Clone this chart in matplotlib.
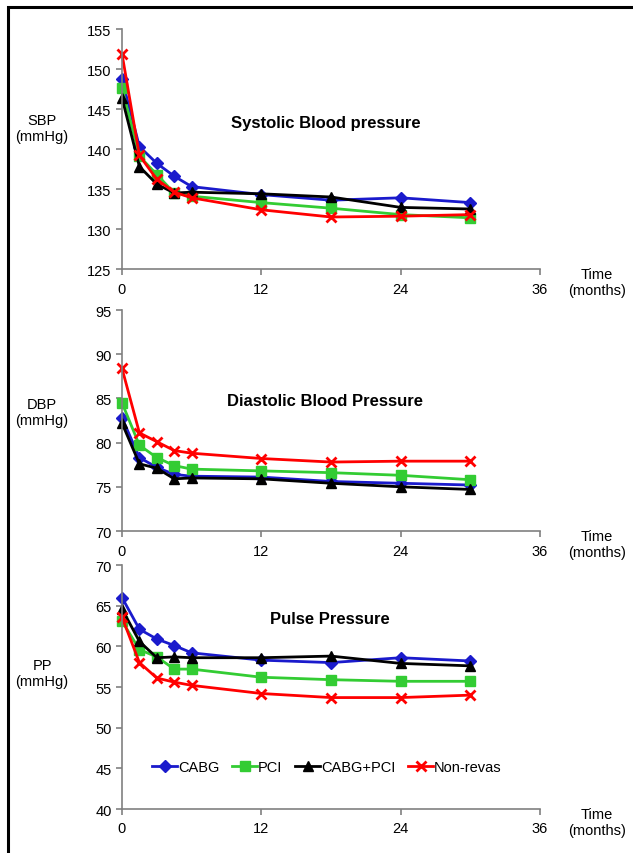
import matplotlib.pyplot as plt
from matplotlib.patches import Rectangle

plt.rcParams['font.family'] = ['Liberation Sans', 'DejaVu Sans']

# follow-up times (months)
months = [0, 1.5, 3, 4.5, 6, 12, 18, 24, 30]

groups = ["CABG", "PCI", "CABG+PCI", "Non-revas"]

# systolic blood pressure (mmHg)
sbp_cabg = [148.7, 140.3, 138.2, 136.6, 135.3, 134.3, 133.6, 133.9, 133.3]
sbp_pci = [147.6, 139.1, 136.8, 134.5, 134.1, 133.3, 132.6, 131.8, 131.4]
sbp_both = [146.4, 137.8, 135.6, 134.5, 134.6, 134.4, 134.0, 132.7, 132.5]
sbp_nonrev = [151.9, 139.2, 136.2, 134.6, 133.9, 132.4, 131.5, 131.6, 131.8]

# diastolic blood pressure (mmHg)
dbp_cabg = [82.8, 78.3, 77.2, 76.4, 76.2, 76.1, 75.6, 75.4, 75.2]
dbp_pci = [84.5, 79.7, 78.3, 77.4, 77.0, 76.8, 76.6, 76.3, 75.8]
dbp_both = [82.2, 77.6, 77.1, 75.9, 76.0, 75.9, 75.4, 75.0, 74.7]
dbp_nonrev = [88.4, 81.1, 80.1, 79.1, 78.8, 78.2, 77.8, 77.9, 77.9]

# pulse pressure (mmHg)
pp_cabg = [66.0, 62.1, 60.9, 60.1, 59.2, 58.3, 58.0, 58.6, 58.2]
pp_pci = [63.1, 59.6, 58.7, 57.2, 57.2, 56.2, 55.9, 55.7, 55.7]
pp_both = [64.6, 60.6, 58.6, 58.7, 58.6, 58.6, 58.8, 57.9, 57.6]
pp_nonrev = [63.6, 58.0, 56.1, 55.6, 55.2, 54.2, 53.7, 53.7, 54.0]

x_ticks = [0, 12, 24, 36]

colors = ["#1a1acc", "#33cc33", "#000000", "#ff0000"]
markers = ["D", "s", "^", "x"]
msizes = [6, 7, 7, 7]

W, H = 633, 854
fig = plt.figure(figsize=(W / 100, H / 100), dpi=100)

# black frame round the picture (only left and top edges visible)
fig.patches.append(Rectangle((8 / W, -0.1), 1.2, 1 - 8 / H + 0.1, transform=fig.transFigure,
                             fill=False, edgecolor="black", linewidth=2.2))


def px_axes(top, bottom):
    # axes rectangle from pixel coordinates of the plotting area
    left, right = 122, 540
    return fig.add_axes([left / W, 1 - bottom / H, (right - left) / W, (bottom - top) / H])


panels = [
    dict(top=30, bottom=270, ylim=(125, 155), step=5, label="SBP\n(mmHg)", lab_y=129,
         title="Systolic Blood pressure", tpos=(326, 124),
         data=[sbp_cabg, sbp_pci, sbp_both, sbp_nonrev]),
    dict(top=311, bottom=532, ylim=(70, 95), step=5, label="DBP\n(mmHg)", lab_y=413,
         title="Diastolic Blood Pressure", tpos=(325, 402),
         data=[dbp_cabg, dbp_pci, dbp_both, dbp_nonrev]),
    dict(top=566, bottom=810, ylim=(40, 70), step=5, label="PP\n(mmHg)", lab_y=674,
         title="Pulse Pressure", tpos=(330, 620),
         data=[pp_cabg, pp_pci, pp_both, pp_nonrev]),
]

for p in panels:
    ax = px_axes(p["top"], p["bottom"])
    for name, vals, c, m, ms in zip(groups, p["data"], colors, markers, msizes):
        ax.plot(months, vals, color=c, marker=m, markersize=ms, linewidth=2,
                markeredgewidth=2 if m == "x" else 1, label=name, clip_on=False)
    ax.set_xlim(0, 36)
    ax.set_ylim(*p["ylim"])
    ax.set_xticks(x_ticks)
    lo, hi = p["ylim"]
    ax.set_yticks(list(range(lo, hi + 1, p["step"])))
    for side in ["top", "right"]:
        ax.spines[side].set_visible(False)
    for side in ["left", "bottom"]:
        ax.spines[side].set_color("#808080")
        ax.spines[side].set_linewidth(1.2)
    ax.tick_params(colors="#808080", labelcolor="black", labelsize=10.5, length=4, width=1.2)
    ax.tick_params(axis="x", pad=5)
    ax.set_facecolor("none")

    fig.text(p["tpos"][0] / W, 1 - p["tpos"][1] / H, p["title"], ha="center", va="center",
             fontsize=12, fontweight="bold")
    fig.text(42 / W, 1 - p["lab_y"] / H, p["label"], ha="center", va="center", fontsize=10.5,
             linespacing=1.1)
    fig.text(597 / W, 1 - (p["bottom"] + 13) / H, "Time\n(months)", ha="center", va="center",
             fontsize=10.5, linespacing=1.1)

    if p["title"] == "Pulse Pressure":
        ax.legend(loc="center", bbox_to_anchor=(327 / W, 1 - 768 / H),
                  bbox_transform=fig.transFigure, ncol=4, frameon=False, fontsize=10.5,
                  handlelength=1.7, handletextpad=0.05, columnspacing=0.9, borderpad=0)

fig.savefig("out.png", dpi=100)
